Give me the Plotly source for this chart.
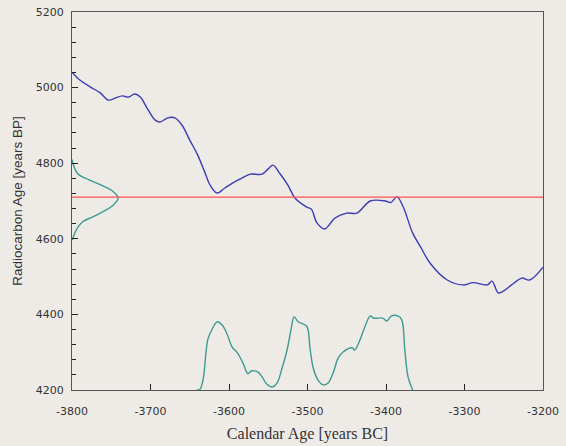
import plotly.graph_objects as go

# calibration curve (calendar age BC, radiocarbon age BP)
cal_x = [-3800, -3790, -3777, -3764, -3754, -3745, -3736, -3728, -3720, -3713,
         -3703, -3694, -3688, -3678, -3669, -3660, -3650, -3640, -3631, -3624,
         -3615, -3605, -3595, -3584, -3573, -3558, -3550, -3544, -3535, -3525,
         -3516, -3501, -3495, -3488, -3478, -3472, -3465, -3450, -3437, -3420,
         -3401, -3394, -3386, -3378, -3366, -3355, -3344, -3322, -3302, -3289,
         -3271, -3265, -3257, -3250, -3240, -3227, -3217, -3200]
cal_y = [5041, 5020, 5002, 4986, 4967, 4972, 4978, 4975, 4983, 4975,
         4941, 4914, 4909, 4920, 4920, 4901, 4861, 4822, 4777, 4742,
         4721, 4735, 4748, 4760, 4771, 4771, 4785, 4795, 4772, 4742,
         4708, 4684, 4678, 4642, 4626, 4638, 4655, 4668, 4668, 4700,
         4700, 4696, 4711, 4684, 4615, 4575, 4536, 4491, 4478, 4484,
         4478, 4488, 4457, 4462, 4478, 4496, 4491, 4525]

# measured radiocarbon age and its probability (relative)
measured_age = 4710
meas_y = [4810, 4800, 4773, 4756, 4740, 4725, 4708, 4689, 4672, 4658, 4645, 4623, 4597]
meas_p = [0.0, 0.02, 0.12, 0.37, 0.67, 0.89, 1.0, 0.89, 0.67, 0.45, 0.23, 0.09, 0.01]

# calibrated calendar age probability (relative)
post_x = [-3641, -3637, -3633, -3627, -3622, -3615, -3609, -3603, -3596, -3590,
          -3582, -3576, -3571, -3563, -3558, -3552, -3545, -3539, -3532, -3526,
          -3521, -3517, -3512, -3501, -3497, -3493, -3487, -3480, -3474, -3467,
          -3461, -3455, -3443, -3440, -3433, -3427, -3420, -3416, -3404, -3399,
          -3393, -3385, -3380, -3376, -3372, -3366]
post_p = [0.0, 0.01, 0.14, 0.68, 0.81, 0.92, 0.88, 0.77, 0.58, 0.51,
          0.36, 0.22, 0.26, 0.24, 0.18, 0.08, 0.04, 0.09, 0.31, 0.54,
          0.81, 0.99, 0.92, 0.86, 0.58, 0.31, 0.14, 0.07, 0.09, 0.24,
          0.43, 0.51, 0.57, 0.54, 0.68, 0.85, 1.0, 0.97, 0.97, 0.93,
          1.0, 1.0, 0.95, 0.54, 0.18, 0.0]

x_ticks = [-3800, -3700, -3600, -3500, -3400, -3300, -3200]
x_tick_text = ["-3800", "-3700", "-3600", "-3500", "-3400", "-3300", "-3200"]
y_ticks = [4200, 4400, 4600, 4800, 5000, 5200]

bg = "#eeebe7"
green = "#3b9a92"

fig = go.Figure()
fig.add_trace(go.Scatter(x=cal_x, y=cal_y, mode="lines",
                         line=dict(color="#3c3cb4", width=1.4, shape="spline")))
fig.add_trace(go.Scatter(x=meas_p, y=meas_y, mode="lines", xaxis="x2",
                         line=dict(color=green, width=1.4, shape="spline")))
fig.add_trace(go.Scatter(x=post_x, y=post_p, mode="lines", yaxis="y2",
                         line=dict(color=green, width=1.4, shape="spline")))
fig.add_hline(y=measured_age, line=dict(color="#ff5050", width=1.2))

axis_common = dict(showgrid=False, zeroline=False, showline=True, linecolor="#555",
                   linewidth=1, mirror=True, ticks="inside", tickcolor="#222",
                   automargin=False,
                   tickfont=dict(family="DejaVu Sans", size=11, color="#333"))

fig.update_layout(
    width=566, height=446,
    margin=dict(l=72, r=23, t=12, b=56),
    paper_bgcolor=bg, plot_bgcolor=bg,
    showlegend=False,
    xaxis=dict(range=[-3800, -3200], tickvals=x_ticks, ticktext=x_tick_text,
               ticklen=6, ticklabelstandoff=11,
               title=dict(text="Calendar Age [years BC]", standoff=10,
                          font=dict(family="Liberation Serif", size=16, color="#333")),
               **axis_common),
    yaxis=dict(range=[4200, 5200], tickvals=y_ticks, ticklen=6, ticklabelstandoff=5,
               minor=dict(dtick=40, ticks="inside", ticklen=4, tickcolor="#222"),
               title=dict(text="Radiocarbon Age [years BP]", standoff=10,
                          font=dict(family="Liberation Sans", size=13.5, color="#333")),
               **axis_common),
    xaxis2=dict(overlaying="x", range=[0, 10.2], visible=False),
    yaxis2=dict(overlaying="y", range=[0, 5.1], visible=False),
)

fig.write_html("out.html", config={"displayModeBar": False},
               post_script="document.body.style.margin='0';"
                           "document.body.style.background='#eeebe7';")
